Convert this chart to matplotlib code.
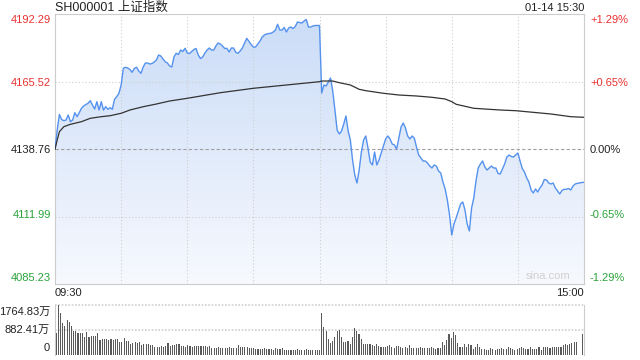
import numpy as np
import matplotlib.pyplot as plt
from matplotlib.colors import LinearSegmentedColormap
from matplotlib.patches import Polygon

plt.rcParams['font.family'] = ['Liberation Sans', 'Noto Sans CJK SC', 'DejaVu Sans']

# data: one point per trading minute, 09:30-11:30 then 13:01-15:00
price = [
    4138.64, 4146.29, 4152.44, 4150.46, 4149.98, 4150.26, 4152.24, 4149.59, 4150.26, 4153.15,
    4151.57, 4153.15, 4154.90, 4155.81, 4156.41, 4156.88, 4157.91, 4156.21, 4154.62, 4157.52,
    4154.22, 4157.52, 4154.22, 4155.53, 4154.50, 4155.14, 4154.50, 4158.47, 4159.50, 4160.85,
    4164.14, 4170.76, 4171.16, 4170.88, 4170.28, 4169.17, 4170.76, 4171.16, 4169.69, 4168.78,
    4171.27, 4172.86, 4172.86, 4172.46, 4172.66, 4173.26, 4174.05, 4176.03, 4175.64, 4174.45,
    4173.38, 4172.86, 4171.67, 4171.27, 4175.36, 4176.71, 4176.23, 4178.01, 4177.42, 4178.69,
    4176.83, 4176.63, 4177.42, 4178.21, 4178.61, 4176.03, 4174.64, 4175.24, 4176.83, 4178.01,
    4178.81, 4178.01, 4178.01, 4179.60, 4180.79, 4180.39, 4179.60, 4178.61, 4178.69, 4177.22,
    4178.81, 4178.81, 4177.10, 4176.71, 4177.62, 4178.81, 4180.79, 4182.65, 4181.39, 4180.20,
    4179.20, 4179.20, 4180.39, 4181.58, 4183.17, 4183.96, 4184.36, 4184.56, 4184.64, 4185.15,
    4185.94, 4188.21, 4185.94, 4185.94, 4186.94, 4185.15, 4186.74, 4187.13, 4186.54, 4187.33,
    4189.12, 4188.92, 4188.72, 4189.51, 4190.11, 4187.13, 4187.13, 4187.53, 4187.73, 4187.73,
    4187.73,
    4160.97, 4164.14, 4163.74, 4165.33, 4166.91, 4161.76, 4154.22, 4146.29, 4144.71, 4145.90,
    4148.67, 4151.85, 4145.90, 4142.33, 4134.40, 4128.45, 4125.28, 4130.43, 4137.57, 4142.33,
    4143.92, 4139.16, 4133.61, 4132.42, 4137.57, 4132.42, 4134.40, 4137.18, 4139.95, 4142.73,
    4143.92, 4142.73, 4140.74, 4140.35, 4138.76, 4143.12, 4147.48, 4149.07, 4147.09, 4143.92,
    4142.73, 4143.92, 4143.12, 4139.55, 4136.38, 4135.19, 4134.00, 4134.00, 4133.21, 4132.02,
    4131.23, 4132.42, 4132.02, 4130.04, 4129.25, 4125.68, 4122.90, 4118.54, 4112.59, 4104.66,
    4109.02, 4111.40, 4114.18, 4116.95, 4117.75, 4114.57, 4109.02, 4106.25, 4115.37, 4119.33,
    4126.07, 4131.23, 4132.81, 4134.00, 4131.62, 4130.43, 4131.23, 4132.02, 4131.23, 4131.23,
    4129.05, 4128.85, 4130.83, 4132.81, 4135.59, 4136.38, 4135.79, 4135.59, 4136.38, 4137.18,
    4134.00, 4131.03, 4129.64, 4127.26, 4125.68, 4122.50, 4121.32, 4122.90, 4121.71, 4123.30,
    4124.49, 4126.67, 4126.47, 4125.28, 4124.88, 4125.28, 4123.30, 4122.11, 4120.92, 4122.31,
    4122.78, 4122.78, 4123.10, 4122.50, 4124.09, 4124.88, 4125.16, 4125.28, 4125.48, 4125.56,
]

# average price line, read at a few minutes
avg_min = [0, 1, 2, 4, 7, 12, 16, 21, 25, 30, 34, 40, 46, 52, 60, 75, 90, 105, 120,
           121, 126, 129, 134, 138, 141, 149, 156, 164, 171, 177, 180, 182, 190,
           202, 209, 225, 234, 240]
avg_val = [4138.64, 4142.33, 4145.62, 4147.60, 4148.55, 4149.59, 4150.93, 4151.57, 4151.96,
           4152.92, 4154.22, 4155.53, 4156.60, 4157.79, 4158.86, 4161.08, 4162.83, 4164.14,
           4165.45, 4165.72, 4165.72, 4165.05, 4164.14, 4162.43, 4161.88, 4160.85, 4160.17,
           4159.78, 4159.26, 4158.59, 4157.52, 4156.49, 4154.90, 4154.22, 4153.95, 4152.64,
           4151.57, 4151.33]

# volume per minute, in 万
volume = [
    765, 1764.83, 1470, 1118, 1000, 1212, 1153, 1000, 847, 847,
    765, 765, 765, 624, 800, 647, 682, 682, 682, 765,
    541, 576, 553, 553, 518, 576, 518, 553, 553, 447,
    447, 588, 506, 506, 376, 424, 447, 424, 447, 341,
    376, 376, 376, 341, 341, 294, 294, 294, 329, 294,
    329, 412, 329, 341, 341, 376, 376, 329, 306, 282,
    341, 306, 282, 329, 306, 306, 306, 306, 306, 271,
    306, 235, 235, 259, 294, 259, 235, 235, 235, 271,
    235, 235, 235, 341, 271, 271, 294, 294, 235, 235,
    235, 224, 224, 224, 212, 235, 212, 212, 212, 165,
    235, 212, 212, 235, 188, 188, 176, 176, 176, 165,
    200, 176, 176, 176, 200, 176, 165, 165, 165, 165,
    165,
    1470, 965, 847, 553, 412, 494, 624, 847, 871, 624,
    447, 447, 494, 376, 624, 941, 859, 729, 553, 376,
    376, 376, 376, 341, 306, 376, 306, 271, 271, 271,
    306, 341, 271, 235, 306, 306, 271, 235, 271, 235,
    341, 235, 235, 235, 235, 271, 235, 235, 235, 235,
    271, 235, 212, 235, 235, 447, 341, 529, 729, 588,
    800, 706, 412, 271, 294, 376, 294, 376, 341, 212,
    271, 376, 271, 212, 212, 188, 165, 235, 212, 188,
    212, 212, 235, 212, 212, 271, 235, 212, 188, 212,
    235, 294, 235, 212, 212, 271, 212, 212, 212, 271,
    188, 294, 271, 271, 235, 271, 271, 294, 294, 294,
    341, 376, 341, 376, 424, 471, 471, 8, 0, 729,
]

prev_close = 4138.76
price_ticks = [4192.29, 4165.52, 4138.76, 4111.99, 4085.23]
pct_labels = ['+1.29%', '+0.65%', '0.00%', '-0.65%', '-1.29%']
label_colors = ['#e8322f', '#e8322f', '#222222', '#2aa33a', '#2aa33a']
vol_ticks = [1764.83, 882.41, 0]
vol_labels = ['1764.83万', '882.41万', '0']

W, H = 640, 360
def fx(px):
    return px / W
def fy(py):
    return 1 - py / H

minutes = np.arange(len(price))
lo, hi = price_ticks[-1], price_ticks[0]

fig = plt.figure(figsize=(6.4, 3.6), dpi=100)
ax = fig.add_axes([fx(55), fy(284), fx(529), 270 / H])
ax.set_xlim(0, 240)
ax.set_ylim(lo, hi)

# gradient fill under the price line
cmap = LinearSegmentedColormap.from_list('fill', ['#f7f9fe', '#cadcf7'])
grad = ax.imshow(np.linspace(0, 1, 256).reshape(-1, 1), extent=[0, 240, lo, hi],
                 aspect='auto', origin='lower', cmap=cmap, zorder=1)
verts = np.column_stack([np.r_[minutes[0], minutes, minutes[-1]], np.r_[lo, price, lo]])
clip = Polygon(verts, closed=True, facecolor='none', edgecolor='none')
ax.add_patch(clip)
grad.set_clip_path(clip)

for m in [30, 60, 90, 120, 150, 180, 210]:
    ax.axvline(m, color='#cfcfcf', lw=0.8, ls=(0, (1, 2)), zorder=2)
for v in [price_ticks[1], price_ticks[3]]:
    ax.axhline(v, color='#cfcfcf', lw=0.8, ls=(0, (1, 2)), zorder=2)
ax.axhline(prev_close, color='#a0a0a0', lw=0.8, ls=(0, (3, 2)), zorder=2)

ax.plot(minutes, price, color='#5592ee', lw=1.0, zorder=4)
ax.plot(avg_min, avg_val, color='#333333', lw=0.9, zorder=5)

ax.set_xticks([])
ax.set_yticks([])
for s in ax.spines.values():
    s.set_color('#cccccc')
    s.set_linewidth(0.8)

ax.text(0.975, 0.01, 'sina.com', transform=ax.transAxes, ha='right', va='bottom',
        fontsize=8, color='#cfcfcf')

# volume panel
vax = fig.add_axes([fx(55), fy(355), fx(529), 50.3 / H])
vax.bar(minutes, volume, width=0.5, color='#5a5a5a', zorder=3)
vax.set_xlim(-0.5, 240.5)
vax.set_ylim(0, vol_ticks[0])
vax.axhline(vol_ticks[0], color='#cfcfcf', lw=1.2, ls=(0, (1, 1)), zorder=2, clip_on=False)
vax.axhline(vol_ticks[1], color='#cfcfcf', lw=1.2, ls=(0, (1, 1)), zorder=2)
vax.set_xticks([])
vax.set_yticks([])
vax.spines['top'].set_visible(False)
vax.spines['bottom'].set_visible(False)
for s in ['left', 'right']:
    vax.spines[s].set_color('#cccccc')
    vax.spines[s].set_linewidth(0.8)

# texts
fs = 8
fig.text(fx(55), fy(8), 'SH000001 上证指数', ha='left', va='center', fontsize=9, color='#222222')
fig.text(fx(584), fy(8), '01-14 15:30', ha='right', va='center', fontsize=fs, color='#222222')

label_y = [20, 83, 149.5, 215, 278]
for v, yy, pct, c in zip(price_ticks, label_y, pct_labels, label_colors):
    fig.text(fx(51), fy(yy), f'{v:.2f}', ha='right', va='center', fontsize=fs, color=c)
    fig.text(fx(590), fy(yy), pct, ha='left', va='center', fontsize=fs, color=c)

fig.text(fx(55), fy(293), '09:30', ha='left', va='center', fontsize=fs, color='#222222')
fig.text(fx(584), fy(293), '15:00', ha='right', va='center', fontsize=fs, color='#222222')

for lab, yy in zip(vol_labels, [311.5, 330, 348]):
    fig.text(fx(50), fy(yy), lab, ha='right', va='center', fontsize=fs, color='#222222')

fig.savefig('out.png', dpi=100, facecolor='white')
